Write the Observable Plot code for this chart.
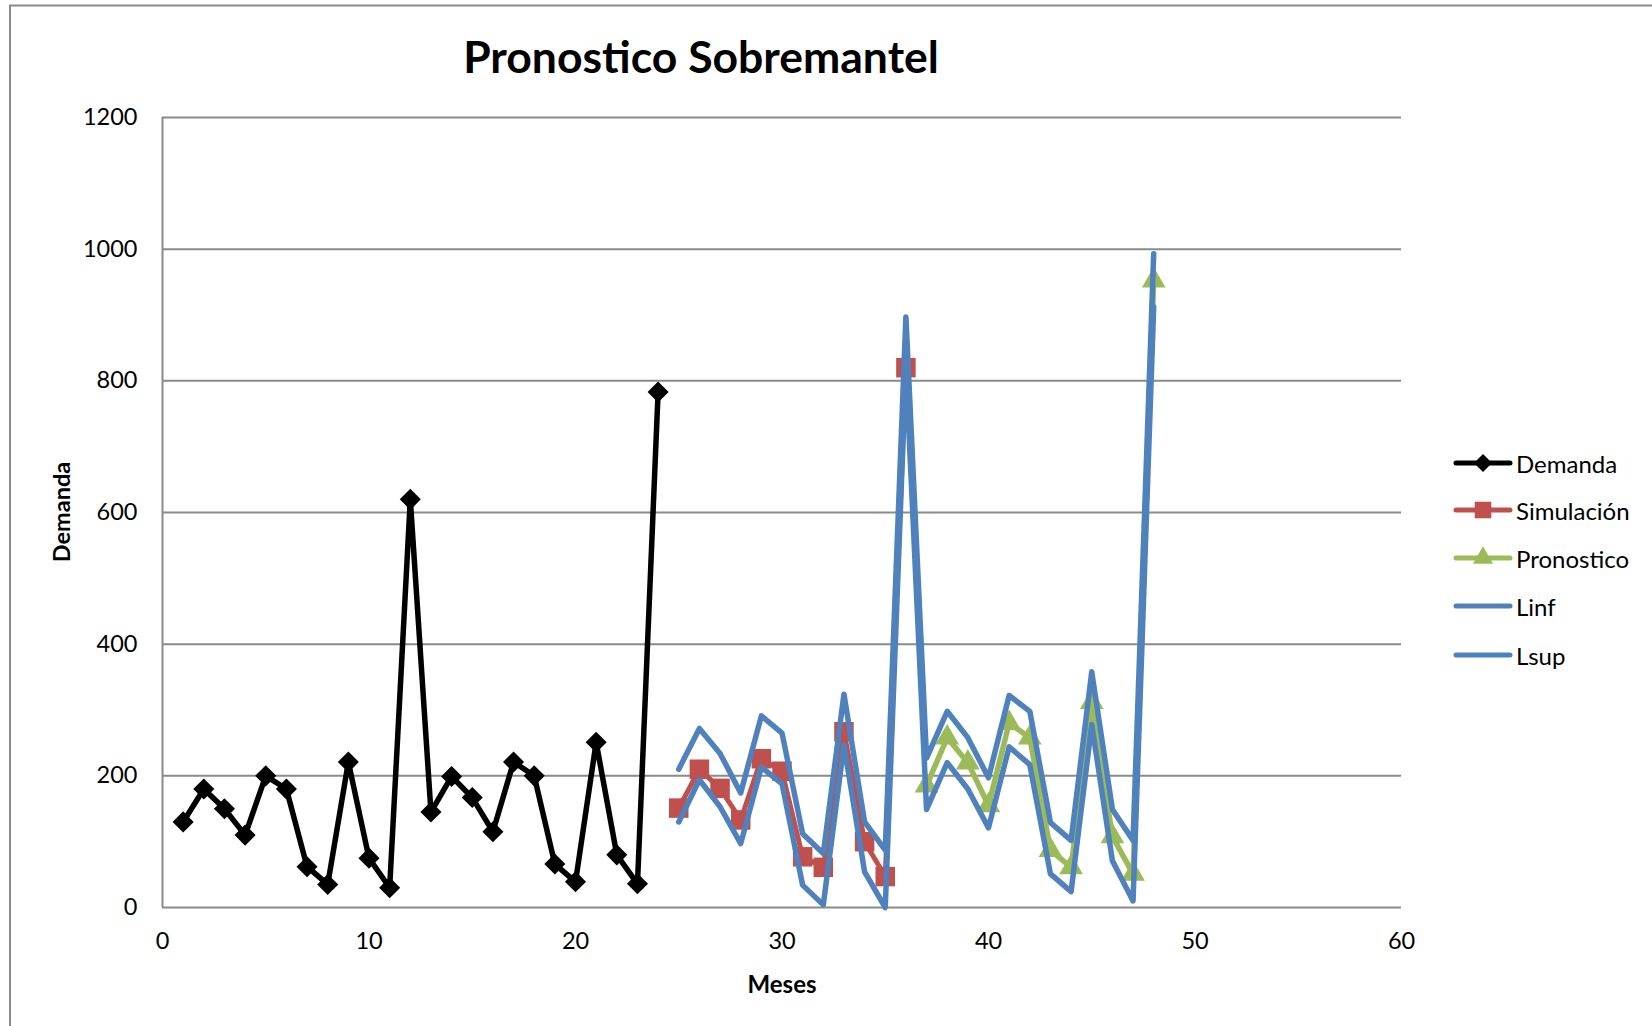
<!DOCTYPE html>
<html>
<head>
<meta charset="utf-8">
<script src="https://cdn.jsdelivr.net/npm/d3@7"></script>
<script src="https://cdn.jsdelivr.net/npm/@observablehq/plot@0.6"></script>
<style>
  body { margin: 0; background: #ffffff; }
  #chart { width: 1652px; height: 1026px; }
</style>
</head>
<body>
<div id="chart"></div>
<script>
// Monthly demand history (months 1-24)
const mesesDemanda = [1, 2, 3, 4, 5, 6, 7, 8, 9, 10, 11, 12, 13, 14, 15, 16, 17, 18, 19, 20, 21, 22, 23, 24];
const demanda = [130, 180, 150, 110, 200, 180, 62, 35, 221, 75, 30, 620, 145, 199, 167, 115, 221, 200, 66, 39, 251, 80, 36, 783];

// Simulated demand (months 25-36)
const mesesSimulacion = [25, 26, 27, 28, 29, 30, 31, 32, 33, 34, 35, 36];
const simulacion = [151, 210, 181, 133, 226, 207, 77, 61, 267, 100, 47, 820];

// Forecast (months 37-48)
const mesesPronostico = [37, 38, 39, 40, 41, 42, 43, 44, 45, 46, 47, 48];
const pronostico = [185, 258, 220, 155, 280, 258, 87, 61, 312, 108, 51, 952];

// Lower and upper limits (months 25-48)
const mesesLimites = [25, 26, 27, 28, 29, 30, 31, 32, 33, 34, 35, 36, 37, 38, 39, 40, 41, 42, 43, 44, 45, 46, 47, 48];
const linf = [130, 194, 153, 97, 213, 188, 34, 4, 247, 54, 0, 822, 149, 220, 180, 121, 244, 217, 51, 24, 278, 71, 10, 912];
const lsup = [210, 272, 234, 174, 291, 265, 112, 82, 324, 130, 87, 897, 227, 298, 258, 197, 322, 298, 129, 102, 358, 149, 102, 993];

// Axis ticks
const xTicks = [0, 10, 20, 30, 40, 50, 60];
const yTicks = [0, 200, 400, 600, 800, 1000, 1200];

// Series names and colours, in drawing / legend order
const nombres = ["Demanda", "Simulación", "Pronostico", "Linf", "Lsup"];
const colores = ["#000000", "#C0504D", "#9BBB59", "#4F81BD", "#4F81BD"];
const simbolos = ["diamond2", "square", "triangle", null, null];

const filas = (meses, valores) => meses.map((m, i) => ({mes: m, valor: valores[i]}));
const datos = [
  filas(mesesDemanda, demanda),
  filas(mesesSimulacion, simulacion),
  filas(mesesPronostico, pronostico),
  filas(mesesLimites, linf),
  filas(mesesLimites, lsup)
];

const FONT = "Lato, 'Open Sans', sans-serif";
const GRID = "#8a8a8a";
const radios = {diamond2: 9.5, square: 11, triangle: 8.8};
const grosor = [5.5, 5, 5.5, 5.5, 5.5];

const serieMarks = datos.flatMap((d, i) => {
  const m = [Plot.line(d, {x: "mes", y: "valor", stroke: colores[i], strokeWidth: grosor[i],
                           strokeLinejoin: "round", strokeLinecap: "round"})];
  if (simbolos[i]) {
    m.push(Plot.dot(d, {x: "mes", y: "valor", symbol: simbolos[i], r: radios[simbolos[i]],
                        fill: colores[i], stroke: "none"}));
  }
  return m;
});

const chart = Plot.plot({
  width: 1652,
  height: 1026,
  marginLeft: 162,
  marginRight: 251,
  marginTop: 117,
  marginBottom: 119,
  style: {fontFamily: FONT, background: "#ffffff", color: "#000"},
  x: {domain: [0, 60], axis: null},
  y: {domain: [0, 1200], axis: null},
  marks: [
    Plot.ruleY(yTicks, {stroke: GRID, strokeWidth: 2}),
    Plot.ruleX([0], {stroke: GRID, strokeWidth: 2}),
    Plot.text(yTicks, {x: 0, y: d => d, text: d => String(d), textAnchor: "end", dx: -25,
                       fontSize: 23.5, fill: "#000"}),
    Plot.text(xTicks, {x: d => d, y: 0, text: d => String(d), dy: 34, fontSize: 23.5, fill: "#000"}),
    ...serieMarks
  ]
});

document.getElementById("chart").appendChild(chart);

const svg = d3.select(chart);

// Outer chart-area border (left and top edges)
svg.append("path")
  .attr("d", "M10,1030V5.5H1660")
  .attr("fill", "none")
  .attr("stroke", GRID)
  .attr("stroke-width", 2);

// Title
svg.append("text")
  .attr("x", 701).attr("y", 73)
  .attr("text-anchor", "middle")
  .attr("font-family", FONT).attr("font-weight", "bold").attr("font-size", 44.5)
  .attr("fill", "#000")
  .text("Pronostico Sobremantel");

// Axis titles
svg.append("text")
  .attr("transform", "translate(61,512) rotate(-90)")
  .attr("text-anchor", "middle").attr("dominant-baseline", "central")
  .attr("font-family", FONT).attr("font-weight", "bold").attr("font-size", 23.5)
  .attr("fill", "#000")
  .text("Demanda");

svg.append("text")
  .attr("x", 782).attr("y", 983)
  .attr("text-anchor", "middle").attr("dominant-baseline", "central")
  .attr("font-family", FONT).attr("font-weight", "bold").attr("font-size", 24)
  .attr("fill", "#000")
  .text("Meses");

// Legend
const legendY = [463, 510, 558, 606, 655];
const leg = svg.append("g");
nombres.forEach((nombre, i) => {
  const y = legendY[i];
  leg.append("line")
    .attr("x1", 1456).attr("x2", 1510).attr("y1", y).attr("y2", y)
    .attr("stroke", colores[i]).attr("stroke-width", 5).attr("stroke-linecap", "round");
  if (simbolos[i]) {
    const tipo = {diamond2: d3.symbolDiamond2, square: d3.symbolSquare, triangle: d3.symbolTriangle}[simbolos[i]];
    const r = radios[simbolos[i]] * 0.85;
    leg.append("path")
      .attr("transform", `translate(1483,${y})`)
      .attr("d", d3.symbol(tipo, r * r * Math.PI)())
      .attr("fill", colores[i]);
  }
  leg.append("text")
    .attr("x", 1516).attr("y", y)
    .attr("text-anchor", "start")
    .attr("dominant-baseline", "central")
    .attr("font-family", FONT).attr("font-size", 24)
    .attr("fill", "#000")
    .text(nombre);
});
</script>
</body>
</html>
